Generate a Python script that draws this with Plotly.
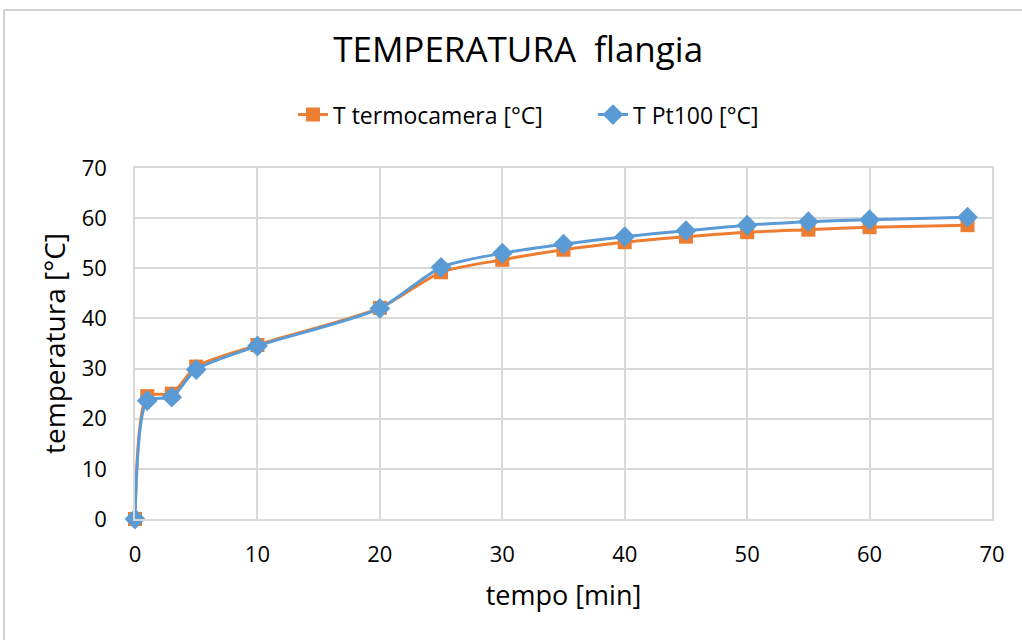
import plotly.graph_objects as go

tempo = [0, 1, 3, 5, 10, 20, 25, 30, 35, 40, 45, 50, 55, 60, 68]
t_termocamera = [0, 24.5, 25.0, 30.4, 34.7, 42.1, 49.2, 51.7, 53.7, 55.2, 56.3, 57.2, 57.7, 58.2, 58.6]
t_pt100 = [0, 23.6, 24.3, 29.8, 34.5, 42.0, 50.2, 53.0, 54.8, 56.3, 57.5, 58.6, 59.3, 59.7, 60.2]

x_ticks = [0, 10, 20, 30, 40, 50, 60, 70]
y_ticks = [0, 10, 20, 30, 40, 50, 60, 70]

FONT = "Open Sans"
ORANGE = "#ED7D31"
BLUE = "#5B9BD5"
GRID = "#D9D9D9"

fig = go.Figure()
fig.add_trace(go.Scatter(
    x=tempo, y=t_termocamera, name="T termocamera [°C]", cliponaxis=False,
    mode="lines+markers", line=dict(color=ORANGE, width=3, shape="spline", smoothing=0.7),
    marker=dict(symbol="square", size=14, color=ORANGE),
))
fig.add_trace(go.Scatter(
    x=tempo, y=t_pt100, name="T Pt100 [°C]", cliponaxis=False,
    mode="lines+markers", line=dict(color=BLUE, width=3, shape="spline", smoothing=0.7),
    marker=dict(symbol="diamond", size=16, color=BLUE),
))

fig.update_layout(
    width=1022, height=640,
    margin=dict(l=135, r=30, t=168, b=121),
    paper_bgcolor="white", plot_bgcolor="white",
    font=dict(family=FONT, color="#000000", size=22),
    title=dict(text="TEMPERATURA&nbsp;&nbsp;flangia",
               x=0.507, xanchor="center", y=0.922, yanchor="middle",
               font=dict(family=FONT, size=35, color="#000000")),
    legend=dict(orientation="h", x=(293 - 135) / 857, xanchor="left", y=1.152, yanchor="middle",
                font=dict(family=FONT, size=23), tracegroupgap=0, entrywidth=255,
                entrywidthmode="pixels"),
    showlegend=True,
    xaxis=dict(range=[0, 70], tickvals=x_ticks, showgrid=True, gridcolor=GRID, gridwidth=1.5,
               showline=True, linecolor=GRID, linewidth=1.5, mirror=True, zeroline=False,
               ticks="", tickfont=dict(size=22), ticklabelstandoff=15,
               title=dict(text="tempo [min]", font=dict(size=27), standoff=19)),
    yaxis=dict(range=[0, 70], tickvals=y_ticks, showgrid=True, gridcolor=GRID, gridwidth=1.5,
               showline=True, linecolor=GRID, linewidth=1.5, mirror=True, zeroline=False,
               ticks="", tickfont=dict(size=22), ticklabelstandoff=22,
               title=dict(text="temperatura [°C]", font=dict(size=28), standoff=8)),
)
fig.add_shape(type="rect", xref="paper", yref="paper",
              x0=(4 - 135) / 857, x1=1.2, y0=-0.5, y1=(519 - 10) / 351,
              line=dict(color="#D0D0D0", width=2), layer="below")

fig.write_html("out.html")
